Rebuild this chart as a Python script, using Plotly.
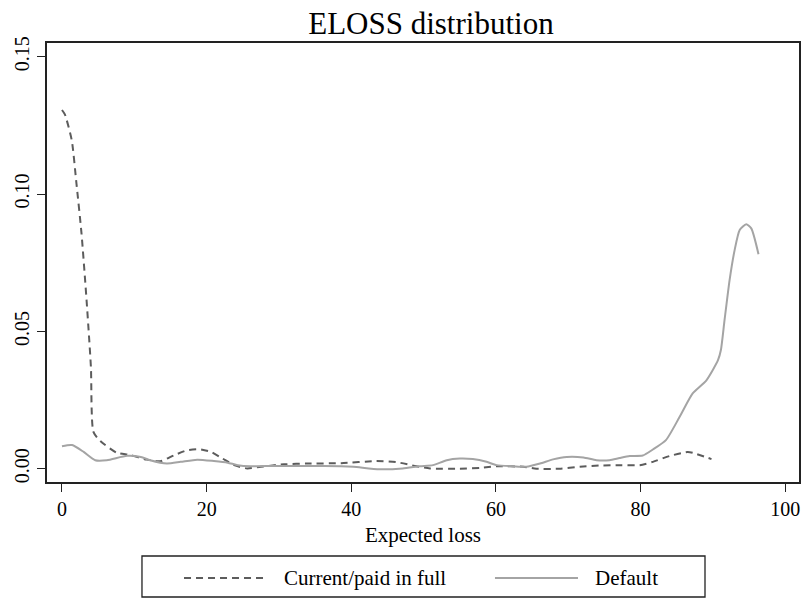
import plotly.graph_objects as go

# Current/paid in full (dashed)
cur_x = [0, 0.4, 1.35, 2.0, 2.7, 3.4, 4.0, 4.35, 5.3, 7.6, 9.4, 11.7, 13.6, 15.5, 17.3, 18.9,
         20.6, 22.2, 23.8, 25.6, 27.5, 30.7, 34, 38.6, 43.5, 46.2, 49, 50.9, 55, 57.8, 60.1,
         63.8, 65.6, 68.8, 71.6, 74.8, 77.1, 79.9, 81.7, 84, 86.5, 87.2, 89.8]
cur_y = [0.1306, 0.129, 0.1196, 0.1039, 0.0857, 0.0614, 0.0371, 0.0134, 0.0101, 0.0058, 0.005,
         0.0033, 0.0027, 0.0049, 0.0067, 0.0071, 0.0061, 0.0037, 0.0013, 0.0001, 0.0007, 0.0016,
         0.0019, 0.0020, 0.0028, 0.0024, 0.0009, 0.0001, 0.0, 0.0003, 0.0009, 0.0007, 0.0, 0.0,
         0.0007, 0.0012, 0.0013, 0.0013, 0.0025, 0.0046, 0.0061, 0.0058, 0.0035]

# Default (solid)
def_x = [0, 1.4, 3.0, 4.6, 6.2, 9, 10.9, 12.2, 14.5, 16.4, 18.7, 21, 22.9, 24.3, 26.1, 29.4, 34,
         38.6, 40.3, 43.9, 47.1, 49.5, 51.3, 53.2, 55, 56.8, 58.7, 60.1, 62.4, 64.2, 66.1, 67.9,
         69.8, 72.1, 73.9, 75.7, 77.1, 78.5, 80.3, 81.7, 83.5, 85.4, 87.2, 89.1, 90.7, 91.1, 91.6,
         92.3, 93, 93.7, 94.6, 95.3, 96.3]
def_y = [0.0082, 0.0086, 0.0061, 0.0031, 0.0031, 0.0047, 0.0043, 0.0031, 0.0019, 0.0025, 0.0033,
         0.0028, 0.0022, 0.0013, 0.0009, 0.001, 0.001, 0.0009, 0.0007, -0.0002, 0.0001, 0.0009,
         0.0013, 0.0031, 0.0037, 0.0035, 0.0025, 0.0013, 0.0009, 0.0007, 0.0019, 0.0034, 0.0043,
         0.0041, 0.0031, 0.0031, 0.0039, 0.0046, 0.0048, 0.007, 0.0104, 0.0189, 0.0274, 0.0322,
         0.0395, 0.0432, 0.054, 0.0686, 0.0796, 0.0869, 0.089, 0.0875, 0.0781]

x_ticks = [0, 20, 40, 60, 80, 100]
y_ticks = [0.00, 0.05, 0.10, 0.15]
y_tick_labels = ["0.00", "0.05", "0.10", "0.15"]
series_names = ["Current/paid in full", "Default"]

FONT = "Liberation Serif"
CUR_COLOR = "#5c5c5c"
DEF_COLOR = "#a4a4a4"
CUR_DASH = "7px,5px"

fig = go.Figure()
fig.add_trace(go.Scatter(x=cur_x, y=cur_y, mode="lines", name=series_names[0],
                         line=dict(color=CUR_COLOR, width=2, dash=CUR_DASH,
                                   shape="spline", smoothing=0.6)))
fig.add_trace(go.Scatter(x=def_x, y=def_y, mode="lines", name=series_names[1],
                         line=dict(color=DEF_COLOR, width=2, shape="spline", smoothing=0.6)))

# Legend drawn below the plot (box, line samples and labels), in paper coordinates
LEG_Y0, LEG_Y1, LEG_MID = -0.262, -0.1686, -0.2187
shapes = [
    dict(type="rect", xref="paper", yref="paper", x0=0.1263, x1=0.875, y0=LEG_Y0, y1=LEG_Y1,
         line=dict(color="#222", width=1.3), fillcolor="white", layer="above"),
    dict(type="line", xref="paper", yref="paper", x0=0.1822, x1=0.2926, y0=LEG_MID, y1=LEG_MID,
         line=dict(color=CUR_COLOR, width=2, dash=CUR_DASH)),
    dict(type="line", xref="paper", yref="paper", x0=0.5957, x1=0.7061, y0=LEG_MID, y1=LEG_MID,
         line=dict(color=DEF_COLOR, width=2)),
]
annotations = [
    dict(text=series_names[0], xref="paper", yref="paper", x=0.3125, y=LEG_MID,
         xanchor="left", yanchor="middle", showarrow=False,
         font=dict(family=FONT, size=21, color="black")),
    dict(text=series_names[1], xref="paper", yref="paper", x=0.726, y=LEG_MID,
         xanchor="left", yanchor="middle", showarrow=False,
         font=dict(family=FONT, size=21, color="black")),
]

fig.update_layout(
    width=804, height=598,
    margin=dict(l=47, r=5, t=43, b=116),
    paper_bgcolor="white", plot_bgcolor="white",
    font=dict(family=FONT, color="black", size=20),
    title=dict(text="ELOSS distribution", font=dict(family=FONT, size=31, color="black"),
               x=0.536, xanchor="center", y=0.98, yanchor="top"),
    showlegend=False,
    shapes=shapes,
    annotations=annotations,
    xaxis=dict(range=[-2.07, 101.9], tickvals=x_ticks, ticks="outside", ticklen=8, tickwidth=1.3,
               tickcolor="#222", showline=True, linecolor="#222", linewidth=2, mirror=True,
               showgrid=False, zeroline=False, automargin=False,
               title=dict(text="Expected loss", font=dict(family=FONT, size=21), standoff=8),
               tickfont=dict(family=FONT, size=20)),
    yaxis=dict(range=[-0.00484, 0.155], tickvals=y_ticks, ticktext=y_tick_labels,
               ticks="outside", ticklen=8, tickwidth=1.3, tickcolor="#222",
               showline=True, linecolor="#222", linewidth=2, mirror=True,
               showgrid=False, zeroline=False, tickangle=-90, automargin=False,
               tickfont=dict(family=FONT, size=20)),
)

fig.write_html("out.html")
